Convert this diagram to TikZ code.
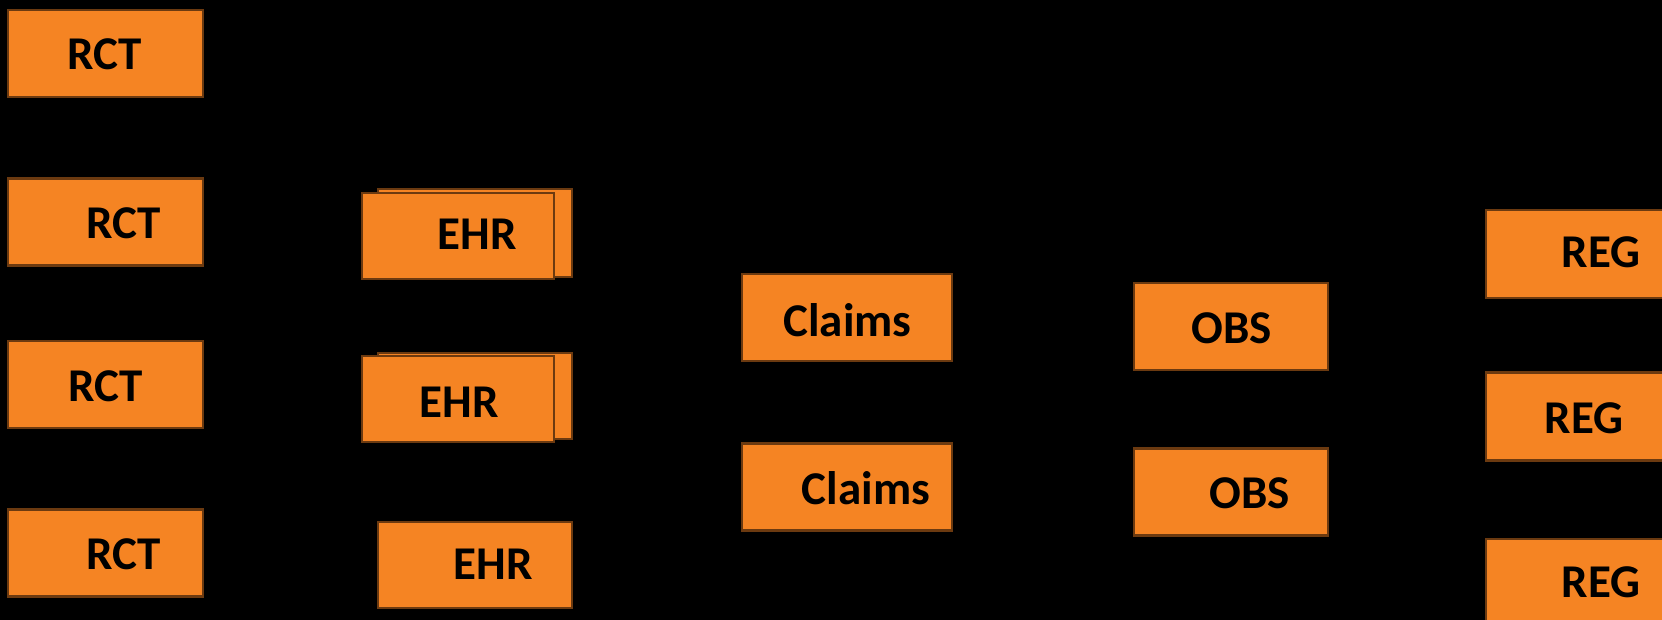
\documentclass[tikz,border=0pt]{standalone}
\usepackage{fontspec}
\setmainfont{Carlito}
\definecolor{boxfill}{RGB}{245,132,35}
\definecolor{boxline}{RGB}{108,58,16}
\begin{document}
\begin{tikzpicture}[x=1pt,y=-1pt,
  box/.style={draw=boxline,fill=boxfill,line width=2.6pt,rectangle,inner sep=0pt,
    minimum width=#1,minimum height=87pt},
  box/.default=194pt,
  lbl/.style={anchor=base,inner sep=0pt,font=\fontsize{47}{47}\selectfont\bfseries,text=black}]
\fill[black] (0,0) rectangle (1662,620);
\useasboundingbox (0,0) rectangle (1662,620);
\clip (0,0) rectangle (1662,620);
% RCT column
\node[box=195pt] (rct1) at (105.5,53.5) {};
\node[box=195pt] (rct2) at (105.5,222) {};
\node[box=195pt] (rct3) at (105.5,384.5) {};
\node[box=195pt] (rct4) at (105.5,553) {};
\node[lbl] (trct1) at (105,70) {RCT};
\node[lbl] (trct2) at (124,238.5) {RCT};
\node[lbl] (trct3) at (106,401) {RCT};
\node[lbl] (trct4) at (124,569.5) {RCT};
% EHR column
\node[box=194pt,minimum height=88pt] (ehr1b) at (475,233) {};
\node[box=192pt,minimum height=86pt] (ehr1) at (458,236) {};
\node[box=194pt,minimum height=86pt] (ehr2b) at (475,396) {};
\node[box=192pt,minimum height=86pt] (ehr2) at (458,399) {};
\node[box=194pt,minimum height=86pt] (ehr3) at (475,565) {};
\node[lbl] (tehr1) at (477,250) {EHR};
\node[lbl] (tehr2) at (459,417) {EHR};
\node[lbl] (tehr3) at (493,579) {EHR};
% Claims column
\node[box=210pt] (cl1) at (847,317.5) {};
\node[box=210pt] (cl2) at (847,487) {};
\node[lbl] (tcl1) at (847.5,336) {Claims};
\node[lbl] (tcl2) at (866,504) {Claims};
% OBS column
\node[box=194pt] (obs1) at (1231,326.5) {};
\node[box=194pt] (obs2) at (1231,492) {};
\node[lbl] (tobs1) at (1232,343) {OBS};
\node[lbl] (tobs2) at (1250,508) {OBS};
% REG column
\node[box=214pt,minimum height=88pt] (reg1) at (1593,254) {};
\node[box=214pt,minimum height=88pt] (reg2) at (1593,416.5) {};
\node[box=214pt,minimum height=88pt] (reg3) at (1593,583) {};
\node[lbl] (treg1) at (1601,268) {REG};
\node[lbl] (treg2) at (1584,433) {REG};
\node[lbl] (treg3) at (1601,597) {REG};
\end{tikzpicture}
\end{document}
